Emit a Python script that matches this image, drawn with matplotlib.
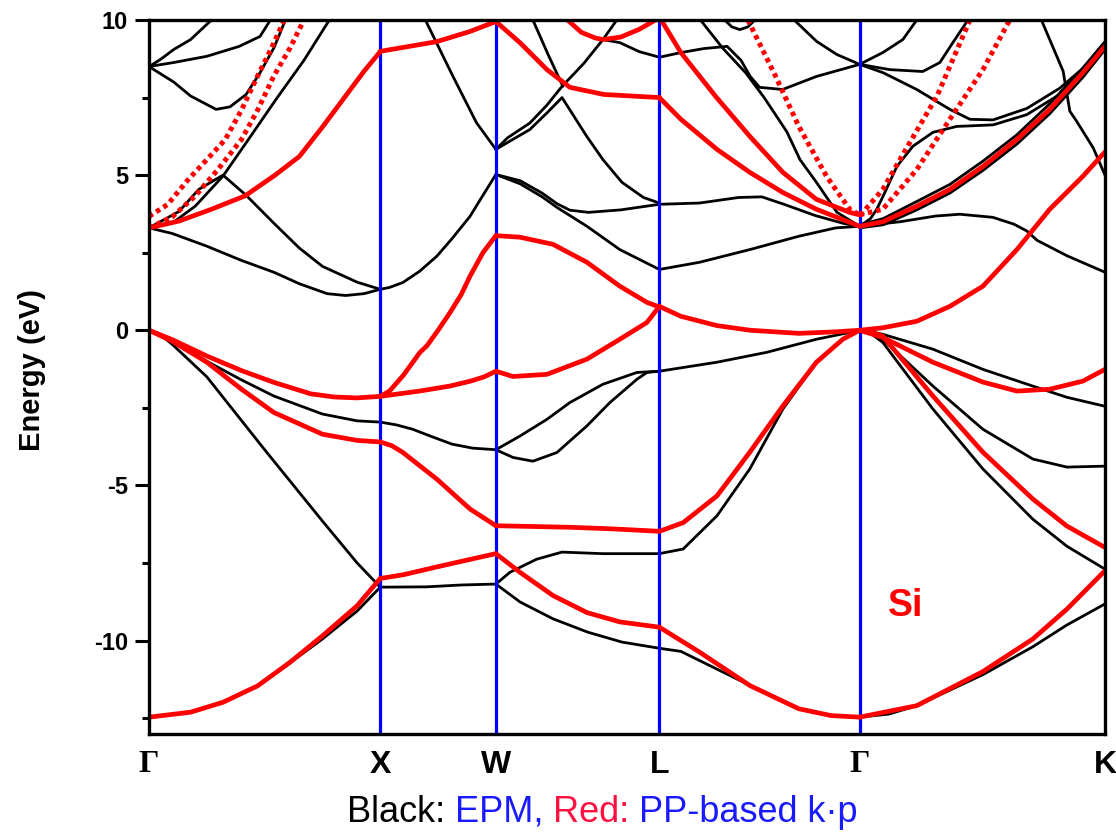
import matplotlib
matplotlib.use("Agg")
import matplotlib.pyplot as plt
from matplotlib.offsetbox import TextArea, HPacker, AnchoredOffsetbox

plt.rcParams['font.family'] = ['Liberation Sans', 'DejaVu Sans']

# ---------------- data ----------------
# high-symmetry points along the path (units of 2*pi/a)
point_labels = ['Γ', 'X', 'W', 'L', 'Γ', 'K']
point_k = [0.0, 1.0, 1.5, 2.207, 3.073, 4.134]

y_major = [-10, -5, 0, 5, 10]
y_major_labels = ['-10', '-5', '0', '5', '10']
y_minor = [-12.5, -7.5, -2.5, 2.5, 7.5]

# EPM bands (black): (k, E[eV]) per band piece
epm_GX = [
    ([0, 0.18, 0.32, 0.47, 0.61, 0.75, 0.90, 1.0], [-12.47, -12.31, -11.99, -11.46, -10.72, -9.95, -9.05, -8.28]),
    ([0, 0.05, 0.10, 0.25, 0.50, 0.75, 0.90, 1.0], [0, -0.15, -0.45, -1.5, -3.85, -6.15, -7.5, -8.28]),
    ([0, 0.10, 0.25, 0.40, 0.54, 0.75, 0.90, 1.0], [0, -0.32, -1.0, -1.6, -2.12, -2.7, -2.92, -2.96]),
    ([0, 0.10, 0.25, 0.40, 0.54, 0.65, 0.77, 0.85, 0.93, 1.0], [3.3, 3.12, 2.71, 2.25, 1.87, 1.5, 1.18, 1.12, 1.18, 1.32]),
    ([0, 0.13, 0.215, 0.32, 0.42, 0.54, 0.65, 0.75, 0.90, 1.0], [3.3, 3.83, 4.54, 5.0, 4.35, 3.45, 2.65, 2.06, 1.55, 1.32]),
    ([0, 0.10, 0.20, 0.32, 0.43, 0.55, 0.67, 0.78], [3.3, 3.45, 4.0, 4.97, 6.15, 7.45, 8.7, 10.0]),
    ([0, 0.107, 0.18, 0.29, 0.35, 0.42, 0.48, 0.54, 0.59], [8.5, 8.0, 7.55, 7.12, 7.2, 7.6, 8.3, 9.1, 10.0]),
    ([0, 0.107, 0.25, 0.39, 0.48, 0.525], [8.5, 8.63, 8.83, 9.15, 9.47, 10.0]),
    ([0, 0.05, 0.107, 0.18, 0.27], [8.5, 8.73, 9.05, 9.37, 10.0]),
]
epm_XW = [
    ([1.0, 1.2, 1.35, 1.5], [-8.28, -8.27, -8.21, -8.18]),
    ([1.0, 1.07, 1.14, 1.22, 1.31, 1.40, 1.5], [-2.96, -3.05, -3.19, -3.42, -3.67, -3.8, -3.85]),
    ([1.0, 1.04, 1.098, 1.17, 1.245, 1.31, 1.388, 1.44, 1.5], [1.32, 1.38, 1.54, 1.9, 2.39, 2.95, 3.67, 4.3, 5.02]),
    ([1.195, 1.314, 1.416, 1.5], [10.0, 8.19, 6.69, 5.83]),
]
epm_WL = [
    ([1.5, 1.561, 1.676, 1.786, 1.96, 2.207], [-8.18, -7.8, -7.38, -7.15, -7.2, -7.2]),
    ([1.5, 1.605, 1.747, 1.897, 2.045, 2.207], [-8.18, -8.76, -9.3, -9.73, -10.05, -10.25]),
    ([1.5, 1.604, 1.721, 1.82, 1.963, 2.11, 2.207], [-3.85, -3.41, -2.87, -2.33, -1.74, -1.36, -1.32]),
    ([1.5, 1.574, 1.66, 1.764, 1.894, 1.993, 2.11, 2.153, 2.207], [-3.85, -4.1, -4.22, -3.94, -3.08, -2.33, -1.58, -1.36, -1.32]),
    ([1.5, 1.605, 1.70, 1.764, 1.894, 2.036, 2.207], [5.02, 4.72, 4.3, 3.96, 3.35, 2.6, 1.96]),
    ([1.5, 1.605, 1.70, 1.764, 1.82, 1.90, 2.04, 2.207], [5.02, 4.82, 4.42, 4.08, 3.87, 3.8, 3.88, 4.06]),
    ([1.5, 1.55, 1.647, 1.72, 1.786, 1.892, 1.963, 2.045, 2.138, 2.207], [5.83, 6.05, 6.47, 7.0, 7.5, 6.26, 5.5, 4.77, 4.28, 4.1]),
    ([1.5, 1.55, 1.647, 1.72, 1.786, 1.88, 1.963, 2.023], [5.83, 6.2, 6.68, 7.25, 7.86, 8.6, 9.37, 10.0]),
    ([1.66, 1.725, 1.79], [10.0, 8.9, 7.86]),
    ([1.963, 2.036, 2.12, 2.207], [9.37, 9.27, 8.98, 8.8]),
]
epm_LG = [
    ([2.207, 2.30, 2.45, 2.60, 2.81, 2.95, 3.073], [-10.25, -10.35, -10.9, -11.45, -12.2, -12.42, -12.47]),
    ([2.207, 2.31, 2.456, 2.598, 2.741, 2.886, 3.0, 3.073], [-7.2, -7.05, -5.98, -4.47, -2.54, -1.03, -0.29, 0]),
    ([2.207, 2.456, 2.672, 2.886, 3.03, 3.073], [-1.32, -1.03, -0.71, -0.29, -0.07, 0]),
    ([2.207, 2.38, 2.598, 2.81, 2.97, 3.073], [1.96, 2.19, 2.6, 3.03, 3.3, 3.35]),
    ([2.207, 2.38, 2.55, 2.65, 2.75, 2.88, 3.0, 3.073], [4.06, 4.1, 4.28, 4.3, 4.05, 3.7, 3.45, 3.35]),
    ([2.39, 2.48, 2.58, 2.66, 2.758, 2.815, 2.886, 2.975, 3.073], [9.95, 9.1, 8.3, 7.5, 6.4, 5.5, 4.77, 3.8, 3.35]),
    ([2.207, 2.30, 2.40, 2.50, 2.56, 2.60, 2.64, 2.74, 2.886, 3.073], [8.8, 8.95, 9.08, 9.15, 8.7, 8.18, 7.83, 7.76, 8.18, 8.57]),
    ([2.49, 2.52, 2.555, 2.59, 2.62], [10.0, 9.78, 9.69, 9.78, 10.0]),
    ([2.79, 2.887, 2.974, 3.073], [10.0, 9.31, 8.89, 8.57]),
]
epm_GK = [
    ([3.073, 3.2, 3.32, 3.606, 3.822, 3.969, 4.134], [-12.47, -12.37, -12.1, -11.1, -10.2, -9.5, -8.82]),
    ([3.073, 3.12, 3.173, 3.39, 3.606, 3.822, 3.969, 4.134], [0, -0.04, -0.13, -0.61, -1.26, -1.8, -2.16, -2.45]),
    ([3.073, 3.12, 3.173, 3.39, 3.606, 3.822, 3.969, 4.134], [0, -0.08, -0.29, -1.8, -3.19, -4.15, -4.41, -4.38]),
    ([3.073, 3.12, 3.173, 3.39, 3.606, 3.822, 3.969, 4.134], [0, -0.1, -0.39, -2.54, -4.47, -6.09, -6.96, -7.7]),
    ([3.073, 3.25, 3.40, 3.506, 3.649, 3.74, 3.796, 3.84, 3.97, 4.134], [3.35, 3.5, 3.68, 3.74, 3.64, 3.42, 3.2, 2.9, 2.4, 1.87]),
    ([3.073, 3.175, 3.32, 3.463, 3.606, 3.753, 3.895, 4.038, 4.134], [3.4, 3.6, 4.15, 4.7, 5.45, 6.3, 7.3, 8.45, 9.3]),
    ([3.073, 3.175, 3.32, 3.463, 3.606, 3.753, 3.895, 4.038, 4.134], [3.3, 3.4, 3.88, 4.42, 5.15, 6.0, 6.98, 8.15, 9.05]),
    ([3.073, 3.175, 3.32, 3.463, 3.55, 3.65, 3.796, 3.938, 4.04, 4.134], [8.57, 8.3, 7.76, 7.12, 6.8, 6.78, 7.15, 7.8, 8.45, 9.3]),
    ([3.073, 3.12, 3.147, 3.173, 3.234, 3.303, 3.39, 3.493, 3.65, 3.796, 3.938, 4.04, 4.134],
     [3.35, 3.6, 3.9, 4.3, 5.28, 5.93, 6.38, 6.57, 6.62, 6.95, 7.6, 8.25, 9.1]),
    ([3.073, 3.204, 3.346, 3.42, 3.476, 3.537], [8.57, 8.4, 8.34, 8.63, 9.27, 9.95]),
    ([3.073, 3.173, 3.26, 3.32], [8.57, 8.95, 9.37, 10.0]),
    ([3.859, 3.953, 3.982, 4.011, 4.083, 4.134], [10.0, 8.35, 7.06, 6.74, 5.88, 5.0]),
]

# PP-based k.p bands (red)
kp_GX = [
    ([0, 0.18, 0.32, 0.47, 0.61, 0.75, 0.90, 1.0], [-12.47, -12.31, -11.99, -11.46, -10.7, -9.85, -8.88, -8.0]),
    ([0, 0.10, 0.25, 0.40, 0.54, 0.70, 0.80, 0.90, 1.0], [0, -0.3, -0.83, -1.3, -1.68, -2.05, -2.15, -2.18, -2.13]),
    ([0, 0.10, 0.25, 0.40, 0.54, 0.75, 0.90, 1.0], [0, -0.35, -1.03, -1.9, -2.65, -3.35, -3.55, -3.6]),
    ([0, 0.13, 0.27, 0.415, 0.545, 0.65, 0.752, 0.85, 0.93, 1.0], [3.3, 3.52, 3.9, 4.33, 5.0, 5.6, 6.57, 7.55, 8.35, 8.98]),
]
kp_GX_dotted = [
    ([0, 0.08, 0.17, 0.25, 0.33, 0.40, 0.47, 0.53, 0.585], [3.67, 4.05, 4.86, 5.5, 6.15, 7.1, 8.2, 9.1, 10.0]),
    ([0, 0.10, 0.20, 0.30, 0.40, 0.47, 0.54, 0.61, 0.67], [3.3, 3.65, 4.33, 5.2, 6.15, 7.1, 8.2, 9.1, 10.0]),
]
kp_XW = [
    ([1.0, 1.1, 1.243, 1.38, 1.5], [-8.0, -7.88, -7.63, -7.4, -7.2]),
    ([1.0, 1.17, 1.30, 1.39, 1.45, 1.5], [-2.13, -1.96, -1.8, -1.64, -1.5, -1.32]),
    ([1.0, 1.05, 1.098, 1.245, 1.388, 1.5], [-3.6, -3.72, -3.94, -4.8, -5.76, -6.3]),
    ([1.0, 1.04, 1.10, 1.172, 1.202, 1.25, 1.30, 1.35, 1.388, 1.444, 1.5],
     [-2.13, -1.96, -1.45, -0.71, -0.5, 0.0, 0.55, 1.15, 1.74, 2.5, 3.05]),
    ([1.0, 1.243, 1.388, 1.5], [8.99, 9.3, 9.63, 9.95]),
]
kp_WL = [
    ([1.5, 1.604, 1.747, 1.894, 2.036, 2.207], [-7.2, -7.8, -8.55, -9.1, -9.4, -9.57]),
    ([1.5, 1.82, 2.0, 2.207], [-6.3, -6.35, -6.4, -6.48]),
    ([1.5, 1.574, 1.721, 1.894, 2.036, 2.153, 2.207], [-1.32, -1.49, -1.42, -0.93, -0.29, 0.25, 0.77]),
    ([1.5, 1.604, 1.747, 1.894, 2.036, 2.153, 2.207], [3.05, 3.0, 2.77, 2.19, 1.42, 0.9, 0.75]),
    ([1.5, 1.604, 1.721, 1.82, 1.967, 2.207], [9.95, 9.27, 8.4, 7.83, 7.6, 7.5]),
    ([1.81, 1.87, 1.93, 1.963, 2.04, 2.12, 2.19], [10.0, 9.6, 9.42, 9.37, 9.45, 9.7, 10.0]),
]
kp_LG = [
    ([2.207, 2.38, 2.598, 2.81, 2.95, 3.073], [-9.57, -10.37, -11.45, -12.2, -12.42, -12.47]),
    ([2.207, 2.31, 2.456, 2.598, 2.741, 2.886, 3.0, 3.073], [-6.48, -6.2, -5.34, -3.93, -2.44, -1.03, -0.29, 0]),
    ([2.207, 2.30, 2.456, 2.6, 2.81, 2.97, 3.073], [0.77, 0.45, 0.15, 0.0, -0.1, -0.05, 0]),
    ([2.207, 2.30, 2.456, 2.598, 2.741, 2.886, 3.03, 3.073], [7.5, 6.8, 5.83, 5.09, 4.44, 3.9, 3.48, 3.35]),
    ([2.215, 2.30, 2.45, 2.598, 2.741, 2.886, 3.03, 3.073], [10.0, 8.95, 7.54, 6.25, 5.09, 4.22, 3.8, 3.72]),
]
kp_LG_dotted = [
    ([2.59, 2.71, 2.81, 2.93, 3.03, 3.073], [10.0, 8.18, 6.57, 4.96, 3.9, 3.72]),
]
kp_GK = [
    ([3.073, 3.32, 3.606, 3.822, 3.969, 4.134], [-12.47, -12.1, -11.0, -9.95, -8.99, -7.75]),
    ([3.073, 3.173, 3.39, 3.606, 3.753, 3.895, 4.038, 4.134], [0, -0.23, -1.03, -1.67, -1.96, -1.9, -1.64, -1.26]),
    ([3.073, 3.12, 3.173, 3.39, 3.606, 3.822, 3.969, 4.134], [0, -0.05, -0.19, -2.12, -3.93, -5.44, -6.31, -7.0]),
    ([3.073, 3.173, 3.32, 3.463, 3.606, 3.753, 3.895, 4.038, 4.134], [0, 0.08, 0.29, 0.77, 1.42, 2.6, 3.9, 4.96, 5.75]),
    ([3.073, 3.175, 3.32, 3.463, 3.606, 3.753, 3.895, 4.038, 4.134], [3.35, 3.5, 4.0, 4.54, 5.28, 6.15, 7.12, 8.3, 9.15]),
]
kp_GK_dotted = [
    ([3.073, 3.087, 3.173, 3.29, 3.407, 3.55], [3.72, 3.8, 4.54, 6.05, 7.54, 10.0]),
    ([3.073, 3.173, 3.32, 3.463, 3.606, 3.722], [3.72, 3.9, 5.18, 6.8, 8.4, 10.0]),
]

caption_parts = ['Black:', 'EPM,', 'Red:', 'PP-based k·p']
material = 'Si'

# ---------------- drawing ----------------
W_PX, H_PX = 1116, 833
fig = plt.figure(figsize=(W_PX / 100, H_PX / 100), dpi=100)
left, right, top, bottom = 149, 1105, 20, 733.6
ax = fig.add_axes([left / W_PX, 1 - bottom / H_PX, (right - left) / W_PX, (bottom - top) / H_PX])

for k, e in epm_GX + epm_XW + epm_WL + epm_LG + epm_GK:
    ax.plot(k, e, color='black', lw=2.0, zorder=2, solid_joinstyle='round', solid_capstyle='round')

for x in point_k[1:-1]:
    ax.axvline(x, color='#0000ff', lw=2.3, zorder=3)

for k, e in kp_GX + kp_XW + kp_WL + kp_LG + kp_GK:
    ax.plot(k, e, color='#ff0000', lw=3.4, zorder=4, solid_joinstyle='round', solid_capstyle='round')

for k, e in kp_GX_dotted + kp_LG_dotted + kp_GK_dotted:
    ax.plot(k, e, color='#ff0000', lw=3.6, zorder=4, linestyle=(0, (0.9, 0.8)))

ax.set_xlim(point_k[0], point_k[-1])
ax.set_ylim(-13, 10)

ax.set_yticks(y_major)
ax.set_yticklabels(y_major_labels)
ax.set_yticks(y_minor, minor=True)
ax.tick_params(axis='y', which='major', direction='out', length=10, width=2.2,
               labelsize=17, pad=5)
ax.tick_params(axis='y', which='minor', direction='out', length=5, width=2.2)
for lbl in ax.get_yticklabels():
    lbl.set_fontweight('bold')

ax.set_xticks(point_k)
ax.set_xticklabels(point_labels)
ax.tick_params(axis='x', which='both', length=0, pad=12, labelsize=23)
for lbl in ax.get_xticklabels():
    lbl.set_fontweight('bold')
    if lbl.get_text() == 'Γ':
        lbl.set_family(['Liberation Serif', 'DejaVu Serif'])

for sp in ax.spines.values():
    sp.set_linewidth(2.4)
    sp.set_zorder(6)

ax.set_ylabel('Energy (eV)', fontsize=21, fontweight='bold')
ax.yaxis.set_label_coords((46 - left) / (right - left), 0.51)

ax.text(3.273, -8.89, material, color='#ff0000', fontsize=27, fontweight='bold',
        ha='center', va='center', zorder=5)

colors = ['black', '#1a1aff', '#ff1040', '#1a1aff']
children = [TextArea(t, textprops=dict(color=c, fontsize=26)) for t, c in zip(caption_parts, colors)]
box = HPacker(children=children, align='baseline', pad=0, sep=7)
anch = AnchoredOffsetbox(loc='center', child=box, pad=0, borderpad=0, frameon=False,
                         bbox_to_anchor=(602 / W_PX, 1 - 812 / H_PX),
                         bbox_transform=fig.transFigure)
fig.add_artist(anch)

fig.savefig('out.png', dpi=100)
